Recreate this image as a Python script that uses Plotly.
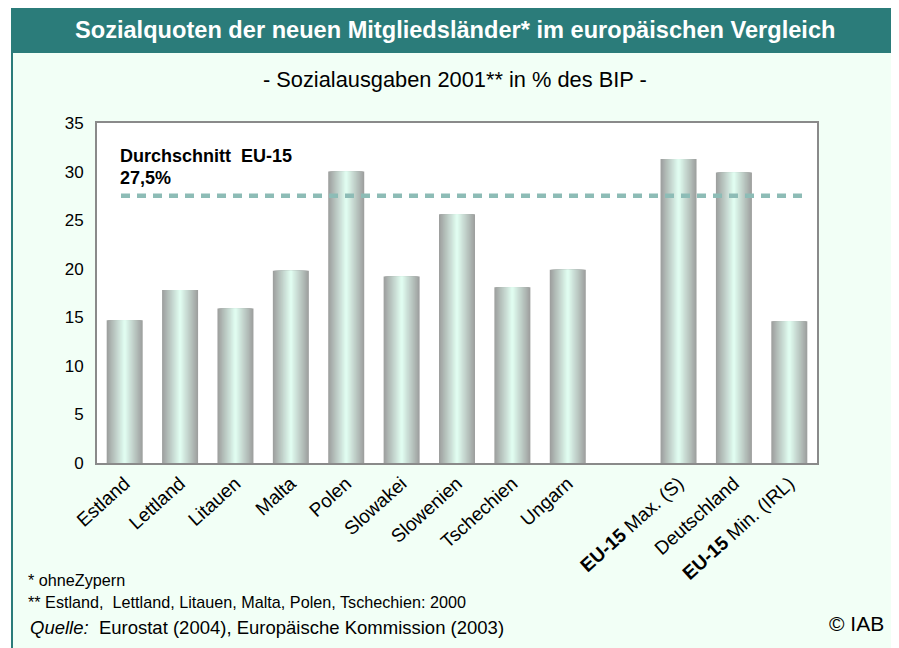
import plotly.graph_objects as go

# ---------------- data ----------------
categories = ["Estland", "Lettland", "Litauen", "Malta", "Polen", "Slowakei",
              "Slowenien", "Tschechien", "Ungarn", " ",
              "<b>EU-15</b> Max. (S)", "Deutschland", "<b>EU-15</b> Min. (IRL)"]
values = [14.7, 17.8, 15.9, 19.8, 30.0, 19.2, 25.6, 18.1, 19.9, None, 31.3, 29.9, 14.6]
eu15_average = 27.5
y_ticks = [0, 5, 10, 15, 20, 25, 30, 35]

# ---------------- layout geometry (page pixels) ----------------
PAGE_OFF = 8                      # browser body margin
W, H = 899 - PAGE_OFF, 648 - PAGE_OFF
PL, PR, PT, PB = 97, 817, 123, 463   # plot area in page pixels


def px(x):
    return (x - PL) / (PR - PL)


def py(y):
    return (PB - y) / (PB - PT)


FONT = "Liberation Sans, Arial, sans-serif"
TEAL = "#2b7c7a"
MINT_BG = "#f2fff6"

fig = go.Figure()

# gradient bars: overlay of narrowing bars, grey edges -> mint centre
N = 16
edge = (158, 160, 159)
centre = (224, 252, 240)
full_width = 0.65
for k in range(N):
    t = k / (N - 1)
    c = tuple(round(edge[i] + (centre[i] - edge[i]) * t) for i in range(3))
    fig.add_trace(go.Bar(
        x=categories, y=values,
        width=full_width * (N - k) / N,
        marker=dict(color="rgb(%d,%d,%d)" % c, line=dict(width=0)),
        hoverinfo="skip", showlegend=False,
    ))

shapes = [
    dict(type="rect", xref="paper", yref="paper",
         x0=px(12), x1=px(896), y0=py(8), y1=py(670),
         fillcolor=MINT_BG, line=dict(color=TEAL, width=2), layer="below"),
    dict(type="rect", xref="paper", yref="paper",
         x0=px(12), x1=px(896), y0=py(8), y1=py(52),
         fillcolor=TEAL, line=dict(color=TEAL, width=2), layer="below"),
    dict(type="rect", xref="paper", yref="paper",
         x0=0, x1=1, y0=0, y1=1,
         fillcolor="white", line=dict(width=0), layer="below"),
    dict(type="line", xref="paper", yref="y",
         x0=px(121), x1=px(803), y0=eu15_average, y1=eu15_average,
         line=dict(color="#8dbcb6", width=4.5, dash="9px,7px"), layer="above"),
]


def note(text, x, y, size, anchor="left", color="black"):
    return dict(text=text, xref="paper", yref="paper", x=px(x), y=py(y),
                xanchor=anchor, yanchor="middle", showarrow=False,
                font=dict(family=FONT, size=size, color=color))


annotations = [
    note("<b>Sozialquoten der neuen Mitgliedsländer* im europäischen Vergleich</b>",
         455, 30, 23.6, "center", "white"),
    note("- Sozialausgaben 2001** in % des BIP -", 455, 79, 21.8, "center"),
    note("<b>Durchschnitt  EU-15</b>", 118, 156, 18),
    note("<b>27,5%</b>", 118, 178, 18),
    note("* ohneZypern", 26, 580, 16.2),
    note("** Estland,  Lettland, Litauen, Malta, Polen, Tschechien: 2000", 26, 602, 16.2),
    note("<i>Quelle:</i>  Eurostat (2004), Europäische Kommission (2003)", 28, 627, 18.5),
    note("© IAB", 886, 623, 21, "right"),
]

fig.update_layout(
    width=W, height=H,
    margin=dict(l=PL - PAGE_OFF, r=899 - PR, t=PT - PAGE_OFF, b=648 - PB, pad=0),
    paper_bgcolor="white", plot_bgcolor="rgba(0,0,0,0)",
    barmode="overlay",
    showlegend=False,
    font=dict(family=FONT, color="black"),
    shapes=shapes, annotations=annotations,
    xaxis=dict(categoryorder="array", categoryarray=categories,
               range=[-0.5, len(categories) - 0.5],
               tickangle=-42, tickfont=dict(size=19, family=FONT, color="black"),
               showgrid=False, zeroline=False, ticks="",
               showline=True, mirror=True, linecolor="#8a8a8a", linewidth=2),
    yaxis=dict(range=[0, 35], tickvals=y_ticks, ticks="",
               tickfont=dict(size=17, family=FONT, color="black"),
               ticklabelstandoff=8,
               showgrid=False, zeroline=False,
               showline=True, mirror=True, linecolor="#8a8a8a", linewidth=2),
)

fig.write_html("out.html")
